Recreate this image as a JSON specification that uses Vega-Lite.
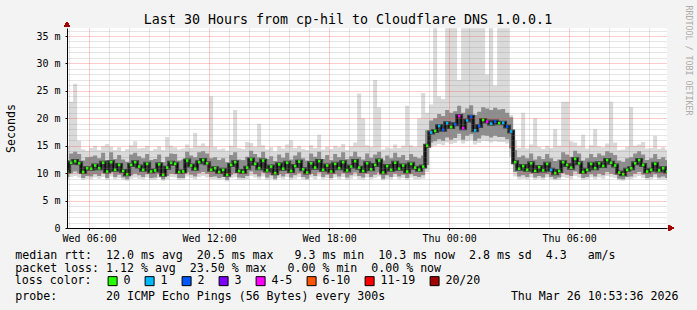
{
"$schema": "https://vega.github.io/schema/vega-lite/v6.json",
"width": 600,
"height": 200,
"autosize": {"type": "none"},
"padding": {"left": 67, "top": 28, "right": 30, "bottom": 82},
"background": "#f3f3f3",
"title": {"text": "Last 30 Hours from cp-hil to Cloudflare DNS 1.0.0.1", "font": "DejaVu Sans Mono", "fontSize": 13.3, "fontWeight": "normal", "color": "#000000", "anchor": "middle", "frame": "group", "dx": -19, "offset": -32.4, "baseline": "alphabetic"},
"config": {
  "view": {"fill": "#ffffff", "stroke": null},
  "font": "DejaVu Sans Mono",
  "axis": {"labelFont": "DejaVu Sans Mono", "titleFont": "DejaVu Sans Mono", "labelFontSize": 10, "titleFontSize": 11.6, "labelColor": "#000000", "titleColor": "#000000", "titleFontWeight": "normal", "domainColor": "#000000", "tickColor": "#000000", "gridDash": [1, 1], "labelFlush": false},
  "legend": {"padding": 0}
},
"data": {"values": [
{"h":4.9,"md":10.3,"lo":9.3,"hi":12.4,"mn":8.9,"mx":14.8,"loss":"0"},
{"h":5.1,"md":11.9,"lo":10.0,"hi":13.6,"mn":9.3,"mx":23.0,"loss":"0"},
{"h":5.3,"md":12.2,"lo":10.3,"hi":13.9,"mn":9.5,"mx":26.3,"loss":"0"},
{"h":5.5,"md":11.8,"lo":10.0,"hi":13.5,"mn":9.2,"mx":15.9,"loss":"0"},
{"h":5.7,"md":10.2,"lo":9.1,"hi":12.3,"mn":8.8,"mx":14.3,"loss":"0"},
{"h":5.9,"md":10.9,"lo":9.5,"hi":12.9,"mn":9.0,"mx":14.1,"loss":"0"},
{"h":6.1,"md":10.8,"lo":9.4,"hi":13.0,"mn":8.9,"mx":14.6,"loss":"0"},
{"h":6.3,"md":11.4,"lo":9.8,"hi":13.2,"mn":9.2,"mx":15.0,"loss":"0"},
{"h":6.5,"md":10.9,"lo":9.5,"hi":12.7,"mn":9.0,"mx":14.2,"loss":"0"},
{"h":6.7,"md":11.9,"lo":10.0,"hi":13.7,"mn":9.3,"mx":14.9,"loss":"0"},
{"h":6.9,"md":10.3,"lo":9.1,"hi":12.4,"mn":8.8,"mx":15.3,"loss":"0"},
{"h":7.1,"md":12.0,"lo":10.1,"hi":13.8,"mn":9.4,"mx":14.8,"loss":"0"},
{"h":7.3,"md":10.6,"lo":9.3,"hi":12.6,"mn":8.9,"mx":14.2,"loss":"0"},
{"h":7.5,"md":11.5,"lo":9.7,"hi":13.3,"mn":9.1,"mx":14.7,"loss":"0"},
{"h":7.7,"md":10.4,"lo":9.2,"hi":12.5,"mn":8.8,"mx":14.0,"loss":"0"},
{"h":7.9,"md":9.8,"lo":8.9,"hi":12.1,"mn":8.6,"mx":14.4,"loss":"0"},
{"h":8.1,"md":11.5,"lo":9.6,"hi":13.4,"mn":9.0,"mx":15.1,"loss":"0"},
{"h":8.3,"md":12.0,"lo":9.9,"hi":13.7,"mn":9.2,"mx":15.8,"loss":"0"},
{"h":8.5,"md":11.2,"lo":9.6,"hi":13.1,"mn":9.0,"mx":14.5,"loss":"0"},
{"h":8.7,"md":10.6,"lo":9.3,"hi":12.7,"mn":8.9,"mx":14.6,"loss":"0"},
{"h":8.9,"md":11.7,"lo":9.8,"hi":13.5,"mn":9.2,"mx":15.0,"loss":"0"},
{"h":9.1,"md":10.3,"lo":9.1,"hi":12.4,"mn":8.8,"mx":14.1,"loss":"0"},
{"h":9.3,"md":10.5,"lo":9.2,"hi":12.6,"mn":8.8,"mx":14.4,"loss":"0"},
{"h":9.5,"md":11.6,"lo":9.8,"hi":13.4,"mn":9.1,"mx":14.9,"loss":"0"},
{"h":9.7,"md":9.7,"lo":8.9,"hi":12.0,"mn":8.6,"mx":14.2,"loss":"0"},
{"h":9.9,"md":11.0,"lo":9.5,"hi":13.0,"mn":8.9,"mx":16.6,"loss":"0"},
{"h":10.1,"md":11.9,"lo":9.9,"hi":13.6,"mn":9.3,"mx":15.0,"loss":"0"},
{"h":10.3,"md":11.7,"lo":9.8,"hi":13.5,"mn":9.2,"mx":14.7,"loss":"0"},
{"h":10.5,"md":10.2,"lo":9.1,"hi":12.3,"mn":8.8,"mx":14.3,"loss":"0"},
{"h":10.7,"md":10.3,"lo":9.1,"hi":12.5,"mn":8.8,"mx":14.5,"loss":"0"},
{"h":10.9,"md":12.3,"lo":10.1,"hi":13.9,"mn":9.4,"mx":15.2,"loss":"0"},
{"h":11.1,"md":11.4,"lo":9.7,"hi":13.2,"mn":9.1,"mx":14.6,"loss":"0"},
{"h":11.3,"md":10.8,"lo":9.4,"hi":12.9,"mn":8.9,"mx":17.3,"loss":"0"},
{"h":11.5,"md":12.0,"lo":10.0,"hi":13.8,"mn":9.3,"mx":15.0,"loss":"0"},
{"h":11.7,"md":12.4,"lo":10.2,"hi":14.0,"mn":9.5,"mx":15.4,"loss":"0"},
{"h":11.9,"md":11.8,"lo":9.9,"hi":13.6,"mn":9.2,"mx":14.9,"loss":"0"},
{"h":12.1,"md":10.6,"lo":9.3,"hi":12.7,"mn":8.9,"mx":24.0,"loss":"0"},
{"h":12.3,"md":10.9,"lo":9.4,"hi":12.9,"mn":8.9,"mx":14.8,"loss":"0"},
{"h":12.5,"md":10.2,"lo":9.1,"hi":12.4,"mn":8.8,"mx":14.3,"loss":"0"},
{"h":12.7,"md":10.6,"lo":9.3,"hi":12.7,"mn":8.9,"mx":14.5,"loss":"0"},
{"h":12.9,"md":9.7,"lo":8.8,"hi":12.0,"mn":8.5,"mx":14.1,"loss":"0"},
{"h":13.1,"md":11.5,"lo":9.7,"hi":13.3,"mn":9.1,"mx":15.0,"loss":"0"},
{"h":13.3,"md":12.0,"lo":10.0,"hi":13.8,"mn":9.3,"mx":21.5,"loss":"0"},
{"h":13.5,"md":10.4,"lo":9.2,"hi":12.5,"mn":8.8,"mx":14.6,"loss":"0"},
{"h":13.7,"md":10.2,"lo":9.1,"hi":12.4,"mn":8.8,"mx":14.4,"loss":"0"},
{"h":13.9,"md":11.0,"lo":9.5,"hi":13.0,"mn":8.9,"mx":15.7,"loss":"0"},
{"h":14.1,"md":12.5,"lo":10.3,"hi":14.1,"mn":9.5,"mx":15.5,"loss":"0"},
{"h":14.3,"md":11.7,"lo":9.8,"hi":13.5,"mn":9.2,"mx":14.8,"loss":"0"},
{"h":14.5,"md":10.9,"lo":9.4,"hi":12.9,"mn":8.9,"mx":19.0,"loss":"0"},
{"h":14.7,"md":12.3,"lo":10.1,"hi":13.9,"mn":9.4,"mx":15.1,"loss":"0"},
{"h":14.9,"md":10.5,"lo":9.2,"hi":12.6,"mn":8.8,"mx":14.3,"loss":"0"},
{"h":15.1,"md":11.2,"lo":9.6,"hi":13.1,"mn":9.0,"mx":14.7,"loss":"0"},
{"h":15.3,"md":10.0,"lo":9.0,"hi":12.2,"mn":8.7,"mx":14.0,"loss":"0"},
{"h":15.5,"md":11.6,"lo":9.8,"hi":13.4,"mn":9.1,"mx":14.9,"loss":"0"},
{"h":15.7,"md":10.8,"lo":9.4,"hi":12.8,"mn":8.9,"mx":14.5,"loss":"0"},
{"h":15.9,"md":11.9,"lo":9.9,"hi":13.7,"mn":9.3,"mx":15.2,"loss":"0"},
{"h":16.1,"md":10.4,"lo":9.2,"hi":12.5,"mn":8.8,"mx":16.0,"loss":"0"},
{"h":16.3,"md":11.3,"lo":9.6,"hi":13.2,"mn":9.0,"mx":14.6,"loss":"0"},
{"h":16.5,"md":12.1,"lo":10.0,"hi":13.8,"mn":9.3,"mx":15.0,"loss":"0"},
{"h":16.7,"md":10.7,"lo":9.3,"hi":12.7,"mn":8.9,"mx":14.4,"loss":"0"},
{"h":16.9,"md":10.1,"lo":9.0,"hi":12.3,"mn":8.7,"mx":14.2,"loss":"0"},
{"h":17.1,"md":11.8,"lo":9.9,"hi":13.6,"mn":9.2,"mx":15.1,"loss":"0"},
{"h":17.3,"md":11.0,"lo":9.5,"hi":13.0,"mn":8.9,"mx":14.6,"loss":"0"},
{"h":17.5,"md":12.2,"lo":10.1,"hi":13.9,"mn":9.4,"mx":17.0,"loss":"0"},
{"h":17.7,"md":10.6,"lo":9.3,"hi":12.6,"mn":8.9,"mx":14.3,"loss":"0"},
{"h":17.9,"md":11.4,"lo":9.7,"hi":13.3,"mn":9.1,"mx":14.8,"loss":"0"},
{"h":18.1,"md":10.3,"lo":9.1,"hi":12.4,"mn":8.8,"mx":14.4,"loss":"0"},
{"h":18.3,"md":11.7,"lo":9.8,"hi":13.5,"mn":9.2,"mx":15.0,"loss":"0"},
{"h":18.5,"md":10.9,"lo":9.4,"hi":12.9,"mn":8.9,"mx":14.7,"loss":"0"},
{"h":18.7,"md":12.0,"lo":10.0,"hi":13.8,"mn":9.3,"mx":15.3,"loss":"0"},
{"h":18.9,"md":10.5,"lo":9.2,"hi":12.6,"mn":8.8,"mx":14.2,"loss":"0"},
{"h":19.1,"md":11.2,"lo":9.6,"hi":13.1,"mn":9.0,"mx":14.9,"loss":"0"},
{"h":19.3,"md":12.2,"lo":10.1,"hi":13.9,"mn":9.4,"mx":15.6,"loss":"0"},
{"h":19.5,"md":11.0,"lo":9.5,"hi":13.0,"mn":8.9,"mx":24.5,"loss":"0"},
{"h":19.7,"md":10.4,"lo":9.2,"hi":12.5,"mn":8.8,"mx":20.0,"loss":"0"},
{"h":19.9,"md":11.8,"lo":9.9,"hi":13.6,"mn":9.2,"mx":15.1,"loss":"0"},
{"h":20.1,"md":10.7,"lo":9.3,"hi":12.8,"mn":8.9,"mx":14.8,"loss":"0"},
{"h":20.3,"md":11.5,"lo":9.7,"hi":13.4,"mn":9.1,"mx":27.0,"loss":"0"},
{"h":20.5,"md":12.3,"lo":10.1,"hi":13.9,"mn":9.4,"mx":22.0,"loss":"0"},
{"h":20.7,"md":10.1,"lo":9.0,"hi":12.3,"mn":8.7,"mx":14.3,"loss":"0"},
{"h":20.9,"md":11.3,"lo":9.6,"hi":13.2,"mn":9.0,"mx":14.7,"loss":"0"},
{"h":21.1,"md":10.6,"lo":9.3,"hi":12.7,"mn":8.9,"mx":14.5,"loss":"0"},
{"h":21.3,"md":11.9,"lo":9.9,"hi":13.7,"mn":9.3,"mx":15.2,"loss":"0"},
{"h":21.5,"md":10.8,"lo":9.4,"hi":12.9,"mn":8.9,"mx":14.6,"loss":"0"},
{"h":21.7,"md":11.4,"lo":9.7,"hi":13.3,"mn":9.1,"mx":15.0,"loss":"0"},
{"h":21.9,"md":10.3,"lo":9.1,"hi":12.4,"mn":8.8,"mx":22.3,"loss":"0"},
{"h":22.1,"md":11.7,"lo":9.8,"hi":13.5,"mn":9.2,"mx":15.1,"loss":"0"},
{"h":22.3,"md":11.0,"lo":9.5,"hi":13.0,"mn":8.9,"mx":14.8,"loss":"0"},
{"h":22.5,"md":10.6,"lo":9.3,"hi":12.7,"mn":8.9,"mx":20.0,"loss":"0"},
{"h":22.7,"md":11.2,"lo":9.6,"hi":13.2,"mn":9.0,"mx":24.6,"loss":"0"},
{"h":22.9,"md":15.0,"lo":11.5,"hi":17.8,"mn":10.2,"mx":21.0,"loss":"0"},
{"h":23.1,"md":17.4,"lo":15.6,"hi":19.6,"mn":14.8,"mx":22.5,"loss":"1"},
{"h":23.3,"md":17.7,"lo":15.8,"hi":20.0,"mn":15.0,"mx":36.4,"loss":"0"},
{"h":23.5,"md":18.6,"lo":16.2,"hi":20.8,"mn":15.3,"mx":24.0,"loss":"1"},
{"h":23.7,"md":17.9,"lo":15.9,"hi":20.4,"mn":15.1,"mx":23.5,"loss":"2"},
{"h":23.9,"md":19.1,"lo":16.5,"hi":21.5,"mn":15.6,"mx":36.4,"loss":"1"},
{"h":24.1,"md":18.4,"lo":16.1,"hi":21.0,"mn":15.3,"mx":36.4,"loss":"0"},
{"h":24.3,"md":18.9,"lo":16.4,"hi":21.3,"mn":15.5,"mx":36.4,"loss":"2"},
{"h":24.5,"md":20.4,"lo":17.2,"hi":22.3,"mn":16.0,"mx":27.0,"loss":"4-5"},
{"h":24.7,"md":18.2,"lo":16.1,"hi":21.0,"mn":15.4,"mx":36.4,"loss":"4-5"},
{"h":24.9,"md":19.6,"lo":16.8,"hi":21.8,"mn":15.8,"mx":36.4,"loss":"1"},
{"h":25.1,"md":20.3,"lo":17.1,"hi":22.4,"mn":16.0,"mx":36.4,"loss":"2"},
{"h":25.3,"md":17.8,"lo":15.9,"hi":20.6,"mn":15.2,"mx":36.4,"loss":"1"},
{"h":25.5,"md":18.6,"lo":16.3,"hi":21.2,"mn":15.5,"mx":36.4,"loss":"2"},
{"h":25.7,"md":19.7,"lo":16.9,"hi":22.0,"mn":15.9,"mx":36.4,"loss":"0"},
{"h":25.9,"md":19.4,"lo":16.8,"hi":21.8,"mn":15.8,"mx":28.0,"loss":"4-5"},
{"h":26.1,"md":19.0,"lo":16.5,"hi":21.5,"mn":15.6,"mx":36.4,"loss":"1"},
{"h":26.3,"md":19.4,"lo":16.8,"hi":21.9,"mn":15.8,"mx":26.0,"loss":"2"},
{"h":26.5,"md":19.1,"lo":16.6,"hi":21.6,"mn":15.7,"mx":36.4,"loss":"0"},
{"h":26.7,"md":19.2,"lo":16.6,"hi":21.7,"mn":15.7,"mx":36.4,"loss":"1"},
{"h":26.9,"md":18.5,"lo":16.2,"hi":21.0,"mn":15.4,"mx":36.4,"loss":"2"},
{"h":27.1,"md":17.6,"lo":14.5,"hi":20.2,"mn":13.0,"mx":20.6,"loss":"1"},
{"h":27.3,"md":12.0,"lo":10.2,"hi":14.2,"mn":9.4,"mx":16.0,"loss":"0"},
{"h":27.5,"md":10.8,"lo":9.4,"hi":12.9,"mn":8.9,"mx":14.6,"loss":"0"},
{"h":27.7,"md":11.3,"lo":9.6,"hi":13.2,"mn":9.0,"mx":21.0,"loss":"0"},
{"h":27.9,"md":10.6,"lo":9.3,"hi":12.7,"mn":8.9,"mx":14.5,"loss":"0"},
{"h":28.1,"md":11.8,"lo":9.9,"hi":13.6,"mn":9.2,"mx":15.2,"loss":"0"},
{"h":28.3,"md":10.4,"lo":9.2,"hi":12.5,"mn":8.8,"mx":20.0,"loss":"0"},
{"h":28.5,"md":11.1,"lo":9.5,"hi":13.1,"mn":9.0,"mx":14.8,"loss":"0"},
{"h":28.7,"md":10.5,"lo":9.2,"hi":12.6,"mn":8.8,"mx":14.4,"loss":"0"},
{"h":28.9,"md":11.7,"lo":9.8,"hi":13.5,"mn":9.2,"mx":15.0,"loss":"0"},
{"h":29.1,"md":10.6,"lo":9.3,"hi":12.7,"mn":8.9,"mx":14.6,"loss":"1"},
{"h":29.3,"md":10.0,"lo":9.0,"hi":12.2,"mn":8.7,"mx":18.0,"loss":"0"},
{"h":29.5,"md":10.4,"lo":9.2,"hi":12.5,"mn":8.8,"mx":15.0,"loss":"0"},
{"h":29.7,"md":12.0,"lo":10.0,"hi":13.8,"mn":9.3,"mx":23.0,"loss":"0"},
{"h":29.9,"md":11.5,"lo":9.7,"hi":13.4,"mn":9.1,"mx":23.0,"loss":"0"},
{"h":30.1,"md":11.0,"lo":9.5,"hi":13.0,"mn":8.9,"mx":15.8,"loss":"0"},
{"h":30.3,"md":12.6,"lo":10.3,"hi":14.1,"mn":9.5,"mx":15.6,"loss":"0"},
{"h":30.5,"md":11.8,"lo":9.9,"hi":13.6,"mn":9.2,"mx":15.0,"loss":"0"},
{"h":30.7,"md":10.2,"lo":9.1,"hi":12.3,"mn":8.8,"mx":17.0,"loss":"0"},
{"h":30.9,"md":10.6,"lo":9.3,"hi":12.7,"mn":8.9,"mx":14.5,"loss":"0"},
{"h":31.1,"md":11.7,"lo":9.8,"hi":13.5,"mn":9.2,"mx":15.1,"loss":"0"},
{"h":31.3,"md":10.9,"lo":9.4,"hi":12.9,"mn":8.9,"mx":18.0,"loss":"0"},
{"h":31.5,"md":11.8,"lo":9.9,"hi":13.6,"mn":9.2,"mx":14.9,"loss":"0"},
{"h":31.7,"md":11.3,"lo":9.6,"hi":13.2,"mn":9.0,"mx":14.7,"loss":"0"},
{"h":31.9,"md":12.4,"lo":10.2,"hi":14.0,"mn":9.5,"mx":15.4,"loss":"0"},
{"h":32.1,"md":11.9,"lo":9.9,"hi":13.7,"mn":9.3,"mx":23.0,"loss":"0"},
{"h":32.3,"md":11.4,"lo":9.7,"hi":13.3,"mn":9.1,"mx":15.6,"loss":"0"},
{"h":32.5,"md":10.1,"lo":9.0,"hi":12.3,"mn":8.7,"mx":14.2,"loss":"0"},
{"h":32.7,"md":9.8,"lo":8.9,"hi":12.1,"mn":8.6,"mx":14.3,"loss":"0"},
{"h":32.9,"md":10.6,"lo":9.3,"hi":12.7,"mn":8.9,"mx":14.8,"loss":"0"},
{"h":33.1,"md":10.9,"lo":9.4,"hi":12.9,"mn":8.9,"mx":22.0,"loss":"0"},
{"h":33.3,"md":11.8,"lo":9.9,"hi":13.6,"mn":9.2,"mx":15.0,"loss":"0"},
{"h":33.5,"md":12.4,"lo":10.2,"hi":14.0,"mn":9.5,"mx":15.2,"loss":"0"},
{"h":33.7,"md":11.5,"lo":9.7,"hi":13.4,"mn":9.1,"mx":15.7,"loss":"0"},
{"h":33.9,"md":10.3,"lo":9.1,"hi":12.4,"mn":8.8,"mx":14.5,"loss":"0"},
{"h":34.1,"md":10.6,"lo":9.3,"hi":12.7,"mn":8.9,"mx":14.6,"loss":"0"},
{"h":34.3,"md":11.7,"lo":9.8,"hi":13.5,"mn":9.2,"mx":16.8,"loss":"0"},
{"h":34.5,"md":10.5,"lo":9.2,"hi":12.6,"mn":8.8,"mx":14.4,"loss":"0"},
{"h":34.7,"md":10.9,"lo":9.4,"hi":12.9,"mn":8.9,"mx":14.7,"loss":"0"},
{"h":34.9,"md":10.3,"lo":9.1,"hi":12.4,"mn":8.8,"mx":14.3,"loss":"0"}
]},
"layer": [
{
  "mark": {"type": "area", "interpolate": "step", "color": "#dadada", "clip": true},
  "encoding": {
    "x": {"field": "h", "type": "quantitative", "scale": {"domain": [4.893, 34.893], "nice": false, "zero": false},
      "axis": {"orient": "bottom", "values": [5,7,8,9,10,11,13,14,15,16,17,19,20,21,22,23,25,26,27,28,29,31,32,33,34], "grid": true, "gridColor": "#808080", "gridOpacity": 0.4, "labels": false, "ticks": false, "domain": false, "zindex": 1,
        "title": "probe:\u00a0\u00a0\u00a0\u00a0\u00a0\u00a0\u00a020 ICMP Echo Pings (56 Bytes) every 300s\u00a0\u00a0\u00a0\u00a0\u00a0\u00a0\u00a0\u00a0\u00a0\u00a0\u00a0\u00a0\u00a0\u00a0\u00a0\u00a0\u00a0\u00a0Thu Mar 26 10:53:36 2026",
        "titleX": -52.2, "titleY": 71.4, "titleAlign": "left", "titleBaseline": "alphabetic", "titleAngle": 0}},
    "y": {"field": "mn", "type": "quantitative", "scale": {"domain": [0, 36.46], "nice": false},
      "axis": {"orient": "left", "values": [1,2,3,4,6,7,8,9,11,12,13,14,16,17,18,19,21,22,23,24,26,27,28,29,31,32,33,34,36], "grid": true, "gridColor": "#808080", "gridOpacity": 0.4, "labels": false, "ticks": false, "domain": false, "title": null, "zindex": 1}},
    "y2": {"field": "mx"}
  }
},
{
  "mark": {"type": "area", "interpolate": "step", "color": "#8e8e8e", "clip": true},
  "encoding": {
    "x": {"field": "h", "type": "quantitative", "scale": {"domain": [4.893, 34.893], "nice": false, "zero": false},
      "axis": {"orient": "bottom", "values": [6, 12, 18, 24, 30], "grid": true, "gridColor": "#ff3030", "gridOpacity": 0.5, "tickSize": 2, "labelPadding": 3.5, "zindex": 1,
        "labelExpr": "(datum.value < 24 ? 'Wed ' : 'Thu ') + (datum.value % 24 < 10 ? '0' : '') + (datum.value % 24) + ':00'",
        "title": ["median rtt:\u00a0\u00a012.0 ms avg\u00a0\u00a020.5 ms max\u00a0\u00a0\u00a09.3 ms min\u00a0\u00a010.3 ms now\u00a0\u00a02.8 ms sd\u00a0\u00a04.3\u00a0\u00a0\u00a0am/s", "packet loss: 1.12 % avg\u00a0\u00a023.50 % max\u00a0\u00a0\u00a00.00 % min\u00a0\u00a00.00 % now"],
        "titleX": -52.2, "titleY": 30, "titleAlign": "left", "titleBaseline": "alphabetic", "titleLineHeight": 13.8, "titleAngle": 0}},
    "y": {"field": "lo", "type": "quantitative", "scale": {"domain": [0, 36.46], "nice": false},
      "axis": {"orient": "left", "values": [0, 5, 10, 15, 20, 25, 30, 35], "grid": true, "gridColor": "#ff3030", "gridOpacity": 0.5, "tickSize": 2, "labelPadding": 5, "zindex": 1,
        "labelExpr": "datum.value == 0 ? '0' : datum.value + ' m'",
        "title": "Seconds", "titleX": -56, "titleY": 100, "titleAngle": -90, "titleAlign": "center", "titleBaseline": "middle"}},
    "y2": {"field": "hi"}
  }
},
{
  "mark": {"type": "line", "interpolate": "step", "color": "#3c3c3c", "strokeWidth": 4, "clip": true},
  "encoding": {
    "x": {"field": "h", "type": "quantitative", "scale": {"domain": [4.893, 34.893], "nice": false, "zero": false}, "axis": null},
    "y": {"field": "md", "type": "quantitative", "scale": {"domain": [0, 36.46], "nice": false}, "axis": null}
  }
},
{
  "mark": {"type": "line", "interpolate": "step", "color": "#000000", "strokeWidth": 1.3, "clip": true},
  "encoding": {
    "x": {"field": "h", "type": "quantitative", "scale": {"domain": [4.893, 34.893], "nice": false, "zero": false}, "axis": null},
    "y": {"field": "md", "type": "quantitative", "scale": {"domain": [0, 36.46], "nice": false}, "axis": null}
  }
},
{
  "mark": {"type": "point", "shape": "square", "filled": true, "size": 7, "opacity": 1, "clip": true},
  "encoding": {
    "x": {"field": "h", "type": "quantitative", "scale": {"domain": [4.893, 34.893], "nice": false, "zero": false}, "axis": null},
    "y": {"field": "md", "type": "quantitative", "scale": {"domain": [0, 36.46], "nice": false}, "axis": null},
    "color": {"field": "loss", "type": "nominal",
      "scale": {"domain": ["0", "1", "2", "3", "4-5", "6-10", "11-19", "20/20"], "range": ["#26ff00", "#00b8ff", "#0059ff", "#7e00ff", "#ff00ff", "#ff5500", "#ff0000", "#a10000"]},
      "legend": {"title": "loss color:", "orient": "none", "legendX": -52.2, "legendY": 247, "direction": "horizontal", "columns": 8,
        "titleOrient": "left", "titleFont": "DejaVu Sans Mono", "titleFontSize": 11.6, "titleFontWeight": "normal", "titleColor": "#000000", "titlePadding": 15, "titleBaseline": "middle",
        "labelFont": "DejaVu Sans Mono", "labelFontSize": 11.6, "labelColor": "#000000", "labelOffset": 5, "columnPadding": 12,
        "symbolType": "square", "symbolSize": 81, "symbolStrokeColor": "#000000", "symbolStrokeWidth": 1, "symbolOpacity": 1}}
  }
},
{
  "mark": {"type": "point", "shape": "triangle-up", "filled": true, "size": 36, "color": "#a00000", "opacity": 1},
  "encoding": {
    "x": {"datum": 4.893, "type": "quantitative", "scale": {"domain": [4.893, 34.893], "nice": false, "zero": false}, "axis": null},
    "y": {"datum": 37.1, "type": "quantitative", "scale": {"domain": [0, 36.46], "nice": false},
      "axis": {"orient": "right", "domain": false, "ticks": false, "labels": false, "grid": false, "title": "RRDTOOL / TOBI OETIKER", "titleFontSize": 8.3, "titleColor": "#ababab", "titleAngle": 90, "titleAlign": "left", "titleBaseline": "middle", "titleX": 20.5, "titleY": -23}}
  }
},
{
  "mark": {"type": "point", "shape": "triangle-right", "filled": true, "size": 36, "color": "#a00000", "opacity": 1},
  "encoding": {
    "x": {"datum": 35.093, "type": "quantitative", "scale": {"domain": [4.893, 34.893], "nice": false, "zero": false}, "axis": null},
    "y": {"datum": 0, "type": "quantitative", "scale": {"domain": [0, 36.46], "nice": false}, "axis": null}
  }
}
],
"resolve": {"axis": {"x": "independent", "y": "independent"}}
}
